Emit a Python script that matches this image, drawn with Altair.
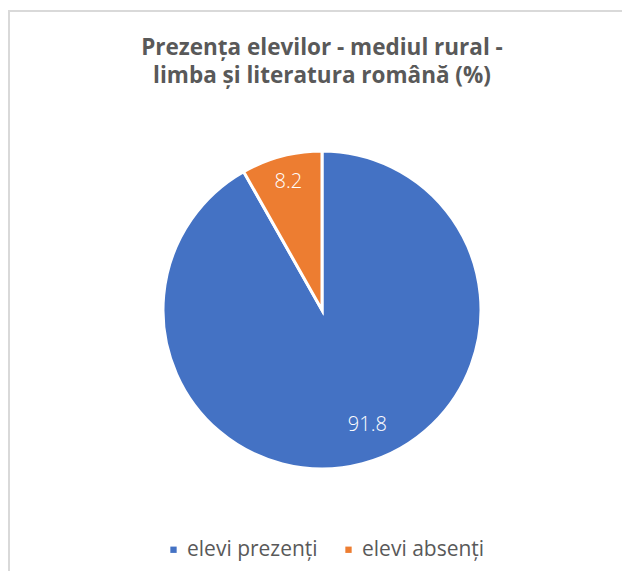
import altair as alt
import pandas as pd

categories = ["elevi prezenți", "elevi absenți"]
values = [91.8, 8.2]
labels = ["91.8", "8.2"]
colors = ["#4472C4", "#ED7D31"]
title_lines = ["Prezența elevilor - mediul rural -", "limba și literatura română (%)"]

df = pd.DataFrame({"cat": categories, "val": values, "lab": labels, "ord": [0, 1]})

FONT = "Open Sans"
CX, CY = 314, 202

base = alt.Chart(df).encode(
    theta=alt.Theta("val:Q", stack=True),
    order=alt.Order("ord:Q"),
)

pie = base.mark_arc(outerRadius=159, stroke="white", strokeWidth=3).encode(
    color=alt.Color(
        "cat:N",
        scale=alt.Scale(domain=categories, range=colors),
        sort=categories,
        legend=alt.Legend(
            title=None,
            orient="none",
            legendX=155,
            legendY=431,
            direction="horizontal",
            symbolType="square",
            symbolSize=40,
            symbolStrokeWidth=0,
            labelFontSize=21,
            labelFont=FONT,
            labelColor="#595959",
            columnPadding=20,
            labelOffset=3,
        ),
    ),
    x=alt.value(CX),
    y=alt.value(CY),
)

# label angles: midpoint of each slice in percent of the full circle
lab_src = alt.Chart(df).transform_window(
    cum="sum(val)", sort=[alt.SortField("ord")]
).transform_calculate(mid="datum.cum - datum.val / 2")

theta_mid = alt.Theta("mid:Q", scale=alt.Scale(domain=[0, 100]), stack=None)

txt_blue = lab_src.mark_text(
    radius=123, dx=14, dy=-4, fontSize=20, font=FONT, fontWeight=300, color="white"
).encode(theta=theta_mid, text="lab:N", x=alt.value(CX), y=alt.value(CY)).transform_filter(
    alt.datum.ord == 0
)
txt_orange = lab_src.mark_text(
    radius=132, fontSize=20, font=FONT, fontWeight=300, color="white"
).encode(theta=theta_mid, text="lab:N", x=alt.value(CX), y=alt.value(CY)).transform_filter(
    alt.datum.ord == 1
)

title = alt.Chart(df.head(1)).mark_text(
    fontSize=22.5, font=FONT, fontWeight="bold", color="#595959",
    align="center", baseline="middle", lineHeight=28,
).encode(text=alt.value(title_lines), x=alt.value(CX), y=alt.value(-60))

frame_top = alt.Chart(df.head(1)).mark_rule(color="#d9d9d9", strokeWidth=2).encode(
    x=alt.value(0), x2=alt.value(614), y=alt.value(-97)
)
frame_left = alt.Chart(df.head(1)).mark_rule(color="#d9d9d9", strokeWidth=2).encode(
    x=alt.value(1), y=alt.value(-98), y2=alt.value(463)
)

chart = alt.layer(frame_top, frame_left, title, pie, txt_blue, txt_orange).properties(
    width=614,
    height=463,
    padding={"left": 0, "top": 100, "right": 0, "bottom": 0},
    autosize=alt.AutoSizeParams(type="none"),
).configure_view(stroke=None)

chart.save("out.html", embed_options={"renderer": "svg", "actions": False})
